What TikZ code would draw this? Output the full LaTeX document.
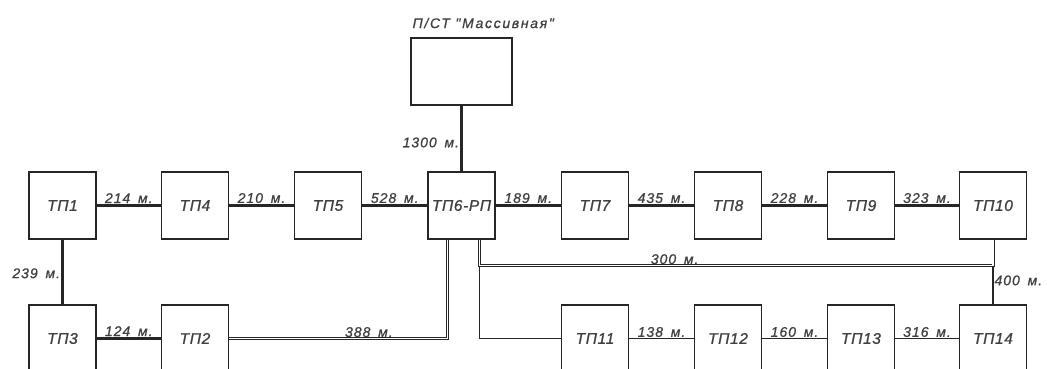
\documentclass[tikz,border=0pt]{standalone}
\usepackage{fontspec}
\setmainfont{Liberation Sans}
\newfontfamily\gost[LetterSpace=7,WordSpace=1.6,FakeBold=0.8]{Liberation Sans}
\newfontfamily\gosttitle[LetterSpace=12,FakeBold=0.8]{Liberation Sans}
\newfontfamily\gostbox[LetterSpace=4,FakeBold=1]{Liberation Sans}
\usetikzlibrary{calc}

\begin{document}
\begin{tikzpicture}[x=1pt,y=-1pt,
 tpbox/.style={draw=black!85,line width=1.2pt,minimum width=67pt,minimum height=67pt,inner sep=0pt,text=black!75,font=\gostbox\itshape\fontsize{15.5}{15.5}\selectfont},
 lbl/.style={font=\gost\itshape\fontsize{14}{14}\selectfont,inner sep=1pt,text=black!75},
 heavy/.style={draw=black!85,line width=3pt},
 light/.style={draw=black!85,line width=1.1pt},
 dbl/.style={draw=black!85,double,line width=0.9pt,double distance=1.2pt}]
\clip (0,0) rectangle (1047,369);
\node[tpbox,minimum width=101pt] (pst) at (461.5,71.5) {};
\node[lbl,above right,font=\gosttitle\itshape\fontsize{14}{14}\selectfont] (pstlbl) at ($(pst.north west)+(1,-8)$) {П/СТ "Массивная"};
\node[tpbox] (tp1) at (62.5,205.5) {ТП1};
\node[tpbox] (tp4) at (195,205.5) {ТП4};
\node[tpbox] (tp5) at (328,205.5) {ТП5};
\node[tpbox] (tp6) at (461.5,205.5) {ТП6-РП};
\node[tpbox] (tp7) at (595,205.5) {ТП7};
\node[tpbox] (tp8) at (728,205.5) {ТП8};
\node[tpbox] (tp9) at (861,205.5) {ТП9};
\node[tpbox] (tp10) at (993,205.5) {ТП10};
\node[tpbox] (tp3) at (62.5,338.5) {ТП3};
\node[tpbox] (tp2) at (195,338.5) {ТП2};
\node[tpbox] (tp11) at (595,338.5) {ТП11};
\node[tpbox] (tp12) at (728,338.5) {ТП12};
\node[tpbox] (tp13) at (861,338.5) {ТП13};
\node[tpbox] (tp14) at (993,338.5) {ТП14};
\coordinate (j10) at ($(tp10.south)+(0,26)$);
\draw[heavy] (pst) -- node[lbl,left,pos=0.56] {1300 м.} (tp6);
\draw[heavy] (tp1) -- node[lbl,above] {214 м.} (tp4);
\draw[heavy] (tp4) -- node[lbl,above] {210 м.} (tp5);
\draw[heavy] (tp5) -- node[lbl,above] {528 м.} (tp6);
\draw[heavy] (tp6) -- node[lbl,above] {189 м.} (tp7);
\draw[heavy] (tp7) -- node[lbl,above] {435 м.} (tp8);
\draw[heavy] (tp8) -- node[lbl,above] {228 м.} (tp9);
\draw[heavy] (tp9) -- node[lbl,above] {323 м.} (tp10);
\draw[heavy] (tp1) -- node[lbl,left,pos=0.52] {239 м.} (tp3);
\draw[heavy] (tp3) -- node[lbl,above] {124 м.} (tp2);
\draw[light] (tp11) -- node[lbl,above] {138 м.} (tp12);
\draw[light] (tp12) -- node[lbl,above] {160 м.} (tp13);
\draw[light] (tp13) -- node[lbl,above] {316 м.} (tp14);
\draw[light] (tp10) -- node[lbl,right,pos=0.63] {400 м.} (tp14);
\draw[light] ([xshift=18pt]tp6.south) |- (tp11.west);
\draw[dbl] (tp2.east) -| node[lbl,above,pos=0.32] {388 м.} ([xshift=-14pt]tp6.south);
\draw[dbl] ([xshift=18pt]tp6.south) |- node[lbl,above,pos=0.69] {300 м.} (j10) -- (tp10.south);
\end{tikzpicture}
\end{document}
